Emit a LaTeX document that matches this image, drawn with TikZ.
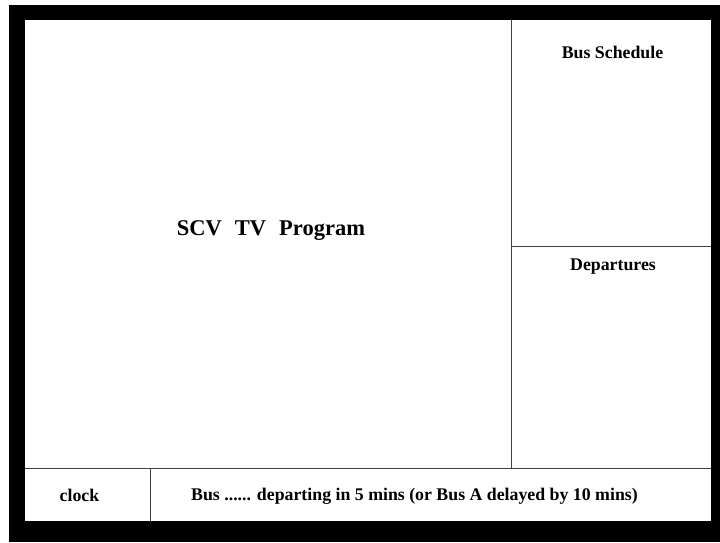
\documentclass[tikz,border=0pt]{standalone}
\usepackage{fontspec}
\setmainfont{Liberation Serif}
\usepackage{tikz}
\usetikzlibrary{positioning}

\begin{document}
\begin{tikzpicture}[
    x = 1pt, y = -1pt,
    divider/.style = {draw = black!75, line width = 1pt},
    label/.style = {font = \bfseries\fontsize{17.8}{20}\selectfont,
      inner sep = 0pt, anchor = base},
    title/.style = {label, font = \bfseries\fontsize{22.5}{26}\selectfont}
    ]
    \useasboundingbox (0, 0) rectangle (720, 542);
    % screen frame
    \fill [black] (9, 5) rectangle (720, 542);
    \fill [white] (25, 20) rectangle (711, 521);

    % panels
    \draw [divider] (25, 468) -- (711, 468);
    \draw [divider] (511, 20) -- (511, 468);
    \draw [divider] (511, 246) -- (711, 246);
    \draw [divider] (150, 468) -- (150, 521);

    \node at (271, 235.5) [title, name = program]
    {SCV\hspace{13pt}TV\hspace{13pt}Program};
    \node at (612.5, 58) [label, name = schedule] {Bus Schedule};
    \node at (613, 270) [label, name = departures] {Departures};
    \node at (79.5, 501) [label, name = clock] {clock};
    \node at (414.5, 500) [label, name = ticker]
    {Bus ...... departing in 5 mins (or Bus A delayed by 10 mins)};

  \end{tikzpicture}
\end{document}
